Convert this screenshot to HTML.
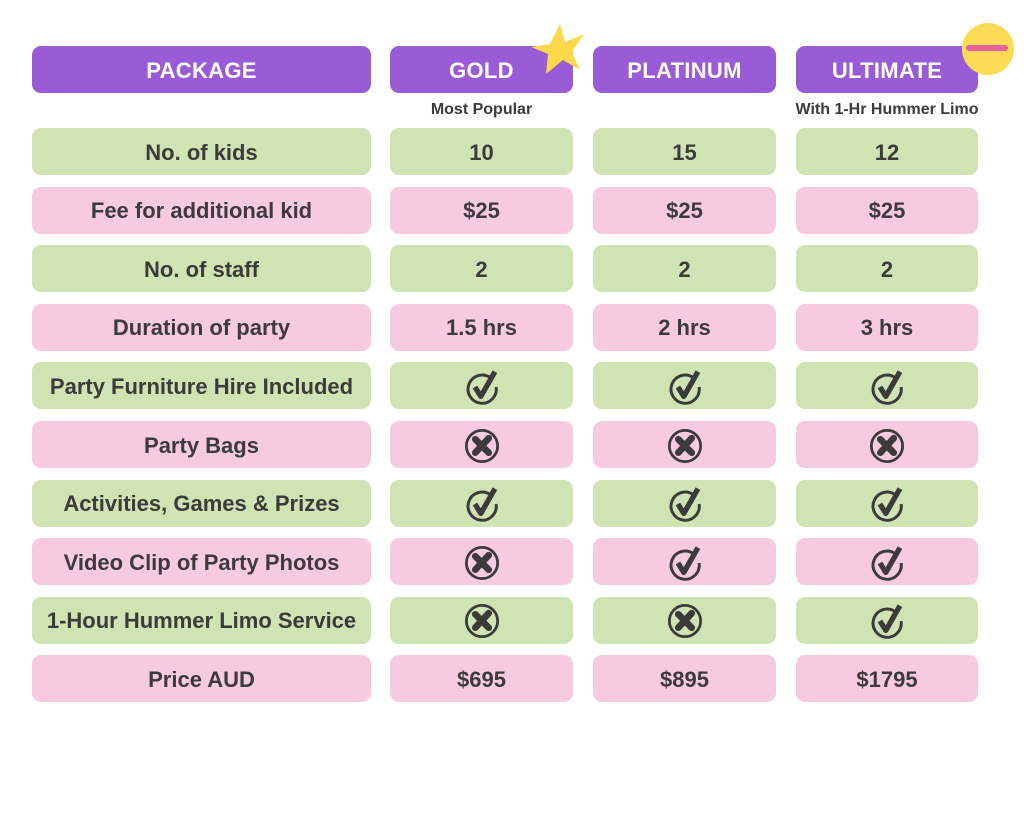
<!DOCTYPE html>
<html><head><style>
body{margin:0;width:1024px;height:819px;background:#fff;position:relative;font-family:"Liberation Sans",sans-serif;overflow:hidden}
.b{position:absolute;border-radius:9px;display:flex;align-items:center;justify-content:center;font-weight:bold;font-size:22px;color:#3b3b3b;padding-top:2px;box-sizing:border-box}
.h{background:#9a5bd6;color:#fff;font-size:22px;font-weight:bold;letter-spacing:0.3px}
.g{background:#cfe3b3}.p{background:#f8cadf}
.s{position:absolute;font-size:16px;font-weight:bold;color:#3b3b3b;text-align:center}
</style></head><body>
<div class="b h" style="left:32px;top:46px;width:339px;height:47px">PACKAGE</div>
<div class="b h" style="left:390px;top:46px;width:183px;height:47px">GOLD</div>
<div class="b h" style="left:593px;top:46px;width:183px;height:47px">PLATINUM</div>
<div class="b h" style="left:796px;top:46px;width:182px;height:47px">ULTIMATE</div>
<svg style="position:absolute;left:528px;top:22px" width="60" height="56" viewBox="0 0 60 56"><polygon points="32,2 37,20 56,12 44,30 52,48 35,38 18,52 20,32 3,25 22,22" fill="#fbd94a"/></svg>
<div style="position:absolute;left:962px;top:23px;width:52px;height:52px;border-radius:50%;background:#fedb55"></div>
<div style="position:absolute;left:966px;top:45px;width:42px;height:6px;background:#e9609f;border-radius:3px"></div>
<div class="s" style="left:390px;top:101px;width:183px">Most Popular</div>
<div class="s" style="left:776px;top:101px;width:222px">With 1-Hr Hummer Limo</div>
<div id="rows"></div>
<svg width="0" height="0" style="position:absolute"><defs>
<g id="ck"><path d="M24 9 A12 12 0 1 0 29 17" fill="none" stroke="#3b3b3b" stroke-width="2.5"/><path d="M11 17 L16 25 L28 4" fill="none" stroke="#3b3b3b" stroke-width="4.5" stroke-linejoin="round"/></g>
<g id="cx"><circle cx="17" cy="17" r="14" fill="none" stroke="#3b3b3b" stroke-width="2.5"/><path d="M11 11 L23 23 M23 10 L11 23" stroke="#3b3b3b" stroke-width="6" stroke-linecap="round"/></g>
</defs></svg>
<script>
var R=[["No. of kids","10","15","12"],["Fee for additional kid","$25","$25","$25"],["No. of staff","2","2","2"],["Duration of party","1.5 hrs","2 hrs","3 hrs"],["Party Furniture Hire Included","c","c","c"],["Party Bags","x","x","x"],["Activities, Games & Prizes","c","c","c"],["Video Clip of Party Photos","x","c","c"],["1-Hour Hummer Limo Service","x","x","c"],["Price AUD","$695","$895","$1795"]];
var L=[[32,339],[390,183],[593,183],[796,182]],h="";
R.forEach(function(r,i){var t=128+i*58.6,c=i%2?"p":"g";
r.forEach(function(v,j){var inner=v=="c"?'<svg width="40" height="40" viewBox="0 0 34 34"><use href="#ck"/></svg>':v=="x"?'<svg width="38" height="38" viewBox="0 0 34 34"><use href="#cx"/></svg>':v.replace("&","&amp;");
h+='<div class="b '+c+'" style="left:'+L[j][0]+'px;top:'+t+'px;width:'+L[j][1]+'px;height:47px">'+inner+'</div>';});});
document.getElementById("rows").innerHTML=h;
</script>
</body></html>
